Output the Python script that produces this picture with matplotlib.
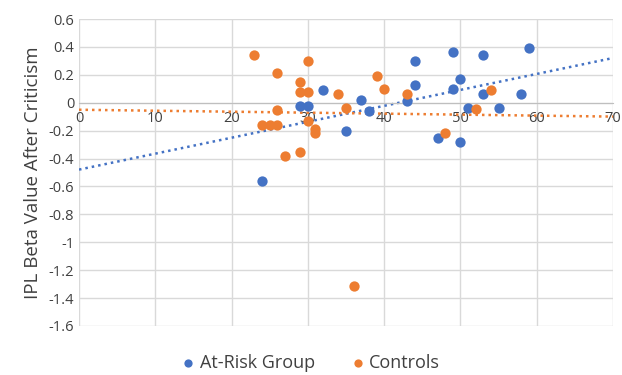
import numpy as np
import matplotlib
matplotlib.use("Agg")
import matplotlib.pyplot as plt

# at-risk group
risk_x = [24, 29, 30, 32, 35, 37, 38, 43, 44, 44, 47, 49, 49, 50, 50, 51, 53, 53, 55, 58, 59]
risk_y = [-0.56, -0.02, -0.02, 0.09, -0.20, 0.02, -0.06, 0.01, 0.30, 0.13, -0.25, 0.36, 0.10,
          0.17, -0.28, -0.04, 0.34, 0.06, -0.04, 0.06, 0.39]

# controls
ctrl_x = [23, 24, 25, 26, 26, 26, 27, 29, 29, 29, 30, 30, 30, 31, 31, 34, 35, 36, 39, 40, 43, 48, 52, 54]
ctrl_y = [0.34, -0.16, -0.16, 0.21, -0.05, -0.16, -0.38, 0.145, 0.08, -0.355, 0.30, 0.08, -0.13,
          -0.19, -0.22, 0.06, -0.04, -1.31, 0.19, 0.10, 0.06, -0.22, -0.045, 0.09]

blue = "#4472C4"
orange = "#ED7D31"

plt.rcParams["font.family"] = ["Open Sans", "DejaVu Sans"]

fig = plt.figure(figsize=(6.22, 3.75), dpi=100)
ax = fig.add_axes([79 / 622, 1 - 326 / 375, (613 - 79) / 622, (326 - 19) / 375])

ax.scatter(risk_x, risk_y, s=55, color=blue, label="At-Risk Group", zorder=3, linewidths=0)
ax.scatter(ctrl_x, ctrl_y, s=55, color=orange, label="Controls", zorder=3, linewidths=0)

# linear trendlines
xs = np.array([0, 70])
for x, y, c in [(risk_x, risk_y, blue), (ctrl_x, ctrl_y, orange)]:
    m, b = np.polyfit(x, y, 1)
    ax.plot(xs, m * xs + b, color=c, lw=1.8, linestyle=(0, (1, 1.6)), zorder=2)

ax.set_xlim(0, 70)
ax.set_ylim(-1.6, 0.6)
ax.set_xticks(range(0, 71, 10))
ax.set_yticks(np.arange(-1.6, 0.61, 0.2))
ax.set_yticklabels(["-1.6", "-1.4", "-1.2", "-1", "-0.8", "-0.6", "-0.4", "-0.2", "0", "0.2", "0.4", "0.6"])

ax.grid(True, color="#d9d9d9", lw=1)
ax.set_axisbelow(True)
for s in ["top", "right", "left"]:
    ax.spines[s].set_visible(False)
ax.spines["bottom"].set_position(("data", 0))
ax.spines["bottom"].set_color("#bfbfbf")
ax.tick_params(axis="both", length=0, labelsize=10.5, colors="#404040")
ax.tick_params(axis="x", pad=6)

ax.set_ylabel("IPL Beta Value After Criticism", fontsize=13.5, color="#404040", labelpad=5)

leg = fig.legend(loc="lower center", bbox_to_anchor=(0.5, -0.035), ncol=2, frameon=False,
                 fontsize=13, handlelength=0.7, handletextpad=0.3, columnspacing=2.0,
                 markerscale=0.8)
for t in leg.get_texts():
    t.set_color("#404040")

fig.savefig("out.png", dpi=100)
